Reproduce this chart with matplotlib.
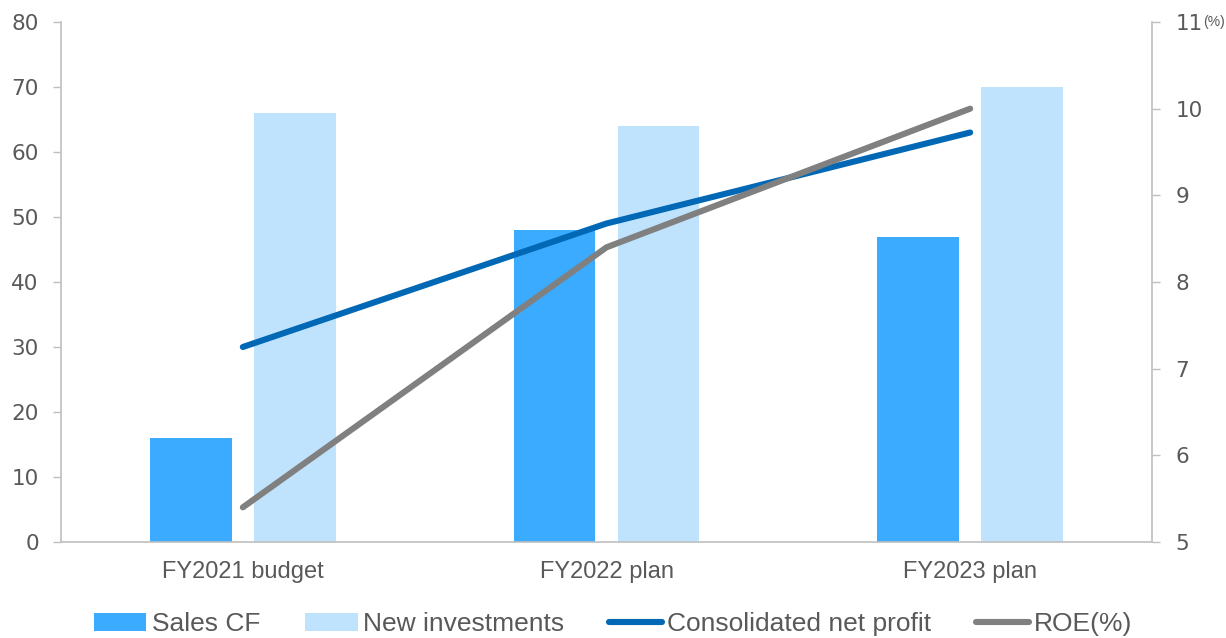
import matplotlib
matplotlib.use("Agg")
import matplotlib.pyplot as plt
from matplotlib.lines import Line2D
from matplotlib.patches import Patch
import numpy as np

categories = ["FY2021 budget", "FY2022 plan", "FY2023 plan"]
sales_cf = [16, 48, 47]
new_investments = [66, 64, 70]
net_profit = [30, 49, 63]
roe = [5.4, 8.4, 10.0]

left_ticks = [0, 10, 20, 30, 40, 50, 60, 70, 80]
right_ticks = [5, 6, 7, 8, 9, 10, 11]

C_SALES = "#3AABFF"
C_INV = "#BFE3FC"
C_NET = "#0068B5"
C_ROE = "#808080"
C_TEXT = "#595959"
C_AXIS = "#BFBFBF"

fig = plt.figure(figsize=(12.26, 6.38), dpi=100)
ax = fig.add_axes([61 / 1226, 1 - 542 / 638, (1152 - 61) / 1226, (542 - 22) / 638])
ax2 = ax.twinx()

x = np.arange(len(categories))
w = 0.225
off = 0.143
ax.bar(x - off, sales_cf, width=w, color=C_SALES, zorder=2)
ax.bar(x + off, new_investments, width=w, color=C_INV, zorder=2)
ax.plot(x, net_profit, color=C_NET, lw=4.4, solid_capstyle="round", zorder=4)
ax2.plot(x, roe, color=C_ROE, lw=4.4, solid_capstyle="round", zorder=4)

ax.set_xlim(-0.5, 2.5)
ax.set_ylim(0, 80)
ax2.set_ylim(5, 11)
ax.set_yticks(left_ticks)
ax2.set_yticks(right_ticks)
ax.set_xticks(x)
ax.set_xticklabels(categories, fontsize=17, family="Liberation Sans", color=C_TEXT)
ax.tick_params(axis="x", length=0, pad=14)
ax.tick_params(axis="y", length=6, width=1, color=C_AXIS, labelcolor=C_TEXT,
               labelsize=15.5, pad=10)
ax2.tick_params(axis="y", length=6, width=1, color=C_AXIS, labelcolor=C_TEXT,
                labelsize=15.5, pad=11)

for a in (ax, ax2):
    a.spines["top"].set_visible(False)
    for s in ("left", "right", "bottom"):
        a.spines[s].set_color(C_AXIS)
        a.spines[s].set_linewidth(1.2)
ax2.spines["left"].set_visible(False)
ax2.spines["bottom"].set_visible(False)
ax.spines["right"].set_visible(False)

ax2.set_zorder(ax.get_zorder() + 1)
ax2.patch.set_visible(False)

fig.text(1203 / 1226, 1 - 22 / 638, "(%)", fontsize=10, color=C_TEXT,
         family="Liberation Sans", ha="left", va="center")

handles = [
    Patch(facecolor=C_SALES, edgecolor="none"),
    Patch(facecolor=C_INV, edgecolor="none"),
    Line2D([0], [0], color=C_NET, lw=4.4, solid_capstyle="round"),
    Line2D([0], [0], color=C_ROE, lw=4.4, solid_capstyle="round"),
]
labels = ["Sales CF", "New investments", "Consolidated net profit", "ROE(%)"]
leg = fig.legend(handles, labels, loc="center", bbox_to_anchor=(0.5, 14 / 638),
                 ncol=4, frameon=False, handlelength=2.0, handleheight=0.7,
                 handletextpad=0.2, columnspacing=1.7,
                 prop={"family": "Liberation Sans", "size": 19})
for t in leg.get_texts():
    t.set_color(C_TEXT)

fig.savefig("out.png", dpi=100)
